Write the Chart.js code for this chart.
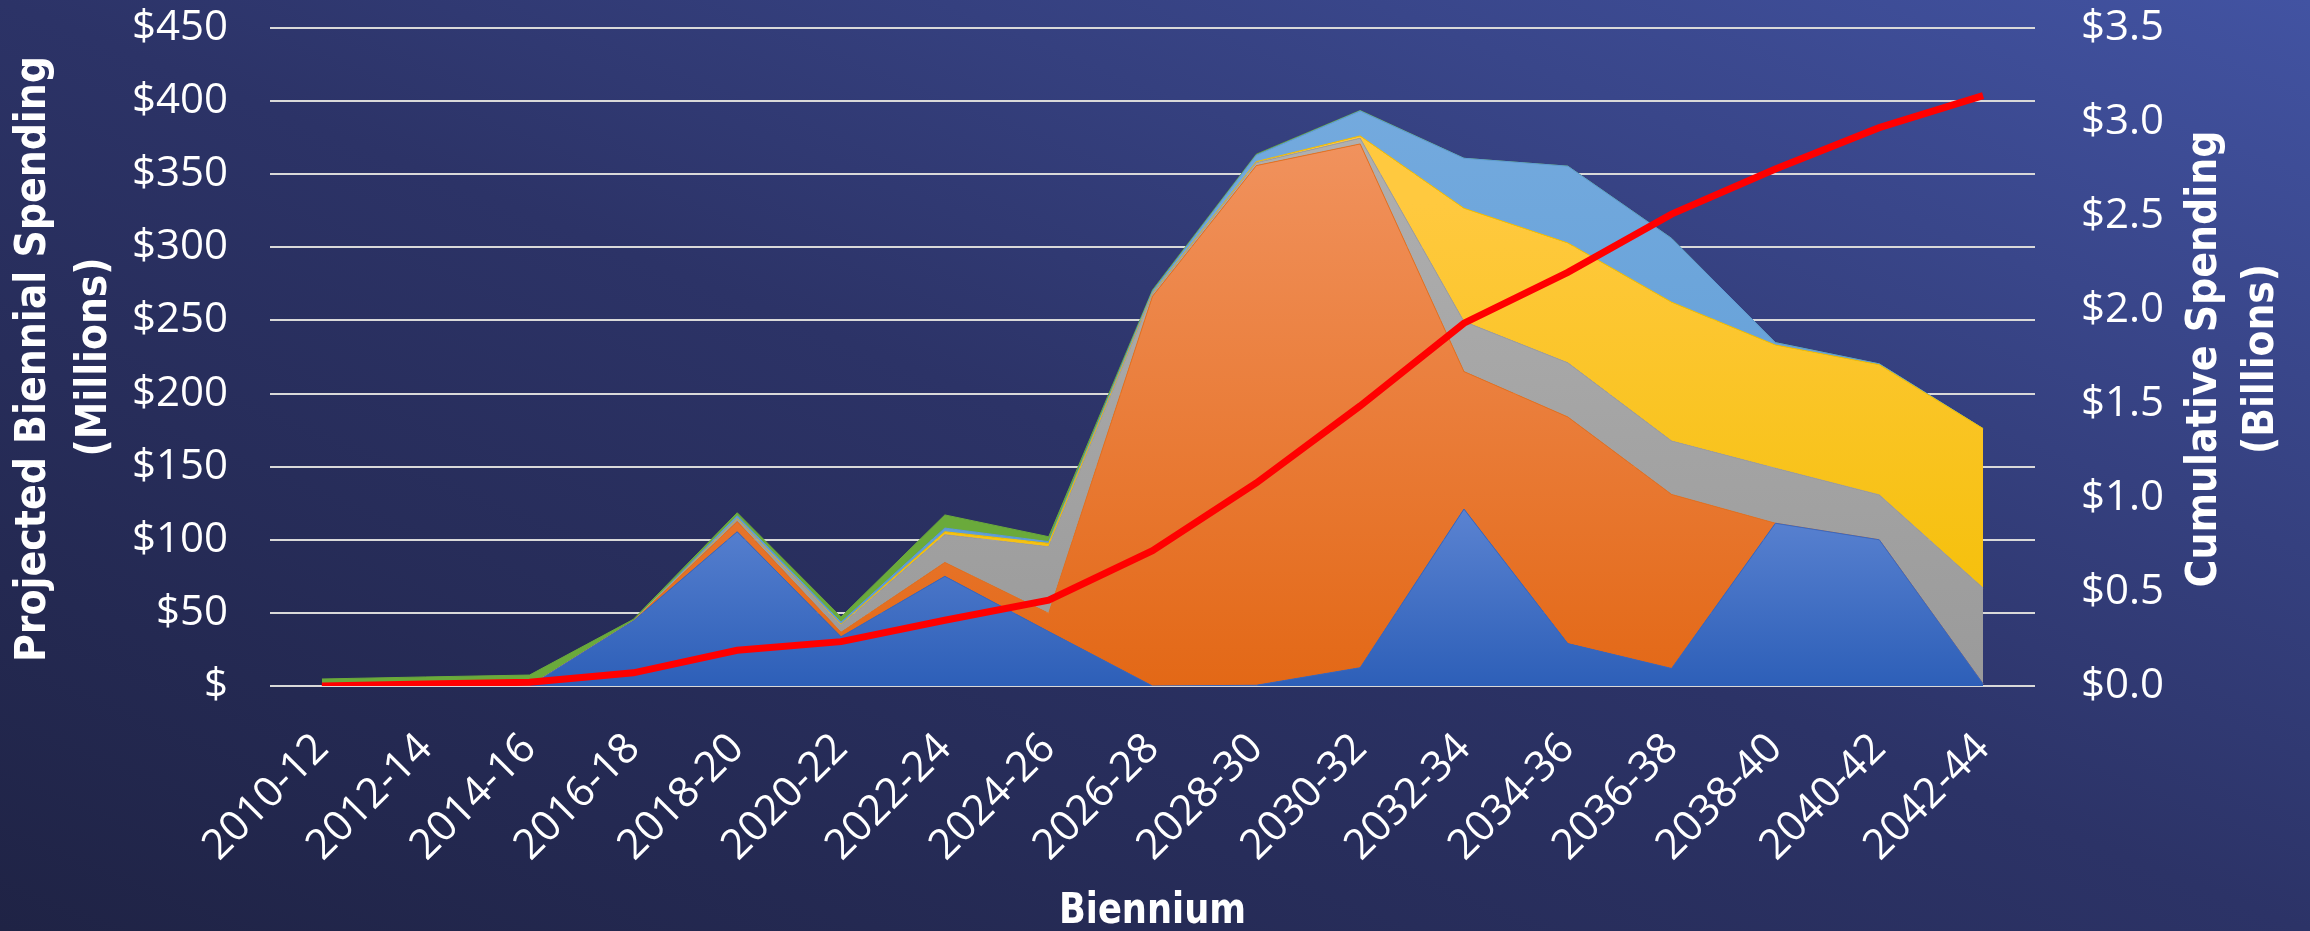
<!DOCTYPE html>
<html>
<head>
<meta charset="utf-8">
<script src="https://cdn.jsdelivr.net/npm/chart.js@4/dist/chart.umd.min.js"></script>
<style>
html, body { margin: 0; padding: 0; }
body {
    width: 2310px;
    height: 931px;
    overflow: hidden;
    background: linear-gradient(to top right, #1f2345 0%, #2c3367 50%, #4253a2 100%);
}
canvas { display: block; }
</style>
</head>
<body>
<canvas id="spending-chart" width="2310" height="931"></canvas>
<script>
// biennial spending by component, $ millions (stacked, bottom to top)
const biennia = ['2010-12', '2012-14', '2014-16', '2016-18', '2018-20', '2020-22', '2022-24', '2024-26',
    '2026-28', '2028-30', '2030-32', '2032-34', '2034-36', '2036-38', '2038-40', '2040-42', '2042-44'];

const series1 = [0, 0, 0, 44.5, 105.5, 33.7, 75, 37.2, 0, 0.5, 12.5, 121, 29, 12, 111.3, 100, 1.5];
const series2 = [0, 0, 0, 0, 7, 3, 9.5, 12.5, 266.5, 355.4, 358.2, 94, 155, 119, 0, 0, 0];
const series3 = [0, 0, 0, 0, 1.5, 5, 19, 45.5, 1.5, 2, 3.9, 34.2, 37, 36.5, 37.6, 30.7, 65.5];
const series4 = [0, 0, 0, 0, 0.5, 0.5, 2, 2.3, 0.5, 0.7, 1.6, 77.5, 82, 95, 84.3, 89, 109];
const series5 = [0, 0, 0, 0, 2, 1.5, 2.5, 1.2, 1.5, 4.5, 17.1, 34.2, 52.5, 43.6, 1.6, 0.6, 0];
const series6 = [4.8, 6.2, 7.5, 1.1, 2, 3.5, 9, 3.4, 0.8, 0.6, 0.3, 0, 0, 0, 0, 0, 0];

// cumulative spending, $ billions
const cumulative = [0.0, 0.01, 0.02, 0.07, 0.19, 0.236, 0.35, 0.457, 0.72, 1.08, 1.49, 1.93, 2.20, 2.51, 2.75, 2.97, 3.14];

const leftTitle = ['Projected Biennial Spending', '(Millions)'];
const rightTitle = ['Cumulative Spending', '(Billions)'];
const bottomTitle = 'Biennium';

const tickFont = { family: "'Open Sans', sans-serif", size: 42 };
const titleFont = "bold 42px 'Liberation Sans Narrow', 'Arial Narrow', 'DejaVu Sans Condensed', sans-serif";

// vertical gradient from the value `fromVal` down to the axis
function shade(fromVal, top, bottom) {
    return (c) => {
        const chart = c.chart;
        const area = chart.chartArea;
        if (!area) return bottom;
        const y0 = chart.scales.y.getPixelForValue(fromVal);
        const g = chart.ctx.createLinearGradient(0, y0, 0, area.bottom);
        g.addColorStop(0, top);
        g.addColorStop(1, bottom);
        return g;
    };
}

function area(data, fill, bg, edge) {
    return {
        type: 'line',
        data: data,
        yAxisID: 'y',
        fill: fill,
        backgroundColor: bg,
        borderColor: edge,
        borderWidth: 1,
        pointRadius: 0,
        tension: 0
    };
}

const axisTitles = {
    id: 'axisTitles',
    afterDraw(chart) {
        const { ctx, chartArea } = chart;
        const midY = (chartArea.top + chartArea.bottom) / 2;
        const midX = (chartArea.left + chartArea.right) / 2;
        const put = (text, x, y, len, rot) => {
            ctx.save();
            ctx.translate(x, y);
            ctx.rotate(rot);
            ctx.font = titleFont;
            const w = ctx.measureText(text).width;
            ctx.scale(len / w, 1);
            ctx.textAlign = 'center';
            ctx.textBaseline = 'middle';
            ctx.fillStyle = '#ffffff';
            ctx.fillText(text, 0, 0);
            ctx.restore();
        };
        put(leftTitle[0], 34, midY + 2, 606, -Math.PI / 2);
        put(leftTitle[1], 95, midY, 199, -Math.PI / 2);
        put(rightTitle[0], 2205, midY + 2, 457, -Math.PI / 2);
        put(rightTitle[1], 2262, midY + 2, 190, -Math.PI / 2);
        put(bottomTitle, midX, 912, 187, 0);
    }
};

// keep the plot box where the original puts it
const noPad = (s) => { s.paddingTop = 0; s.paddingBottom = 0; };

const chart = new Chart(document.getElementById('spending-chart'), {
    data: {
        labels: biennia,
        datasets: [
            {
                type: 'line',
                data: cumulative,
                yAxisID: 'y1',
                borderColor: '#ff0000',
                borderWidth: 7,
                pointRadius: 0,
                fill: false,
                tension: 0,
                order: -1
            },
            area(series1, 'origin', shade(125, '#5c84d2', '#2d5fb8'), '#3a68bf'),
            area(series2, '-1', shade(380, '#f1935f', '#e36816'), '#e8731f'),
            area(series3, '-1', shade(380, '#b0b0b0', '#9a9a9a'), '#a0a0a0'),
            area(series4, '-1', shade(330, '#ffc93f', '#f3be00'), '#f5c000'),
            area(series5, '-1', shade(400, '#74aade', '#5a9ad4'), '#5f9dd6'),
            area(series6, '-1', '#6aaa3b', '#6aaa3b')
        ]
    },
    options: {
        responsive: false,
        animation: false,
        layout: { padding: { top: 28, left: 0, right: 0, bottom: 0 } },
        plugins: {
            legend: { display: false },
            tooltip: { enabled: false }
        },
        scales: {
            x: {
                offset: true,
                grid: { display: false, drawTicks: false },
                border: { display: false },
                ticks: {
                    color: '#ffffff',
                    font: tickFont,
                    autoSkip: false,
                    maxRotation: 45,
                    minRotation: 45,
                    padding: 38
                },
                afterFit: (s) => { s.height = 245; s.paddingLeft = 0; s.paddingRight = 0; }
            },
            y: {
                position: 'left',
                stacked: true,
                min: 0,
                max: 450,
                ticks: {
                    stepSize: 50,
                    color: '#ffffff',
                    font: tickFont,
                    padding: 42,
                    callback: (v) => (v === 0 ? '$' : '$' + v)
                },
                grid: { color: '#d9d9d9', lineWidth: 2, drawTicks: false },
                border: { display: false },
                afterFit: (s) => { s.width = 270; noPad(s); }
            },
            y1: {
                position: 'right',
                min: 0,
                max: 3.5,
                ticks: {
                    stepSize: 0.5,
                    color: '#ffffff',
                    font: tickFont,
                    padding: 46,
                    callback: (v) => '$' + v.toFixed(1)
                },
                grid: { drawOnChartArea: false, drawTicks: false },
                border: { display: false },
                afterFit: (s) => { s.width = 275; noPad(s); }
            }
        }
    },
    plugins: [axisTitles]
});
</script>
</body>
</html>
